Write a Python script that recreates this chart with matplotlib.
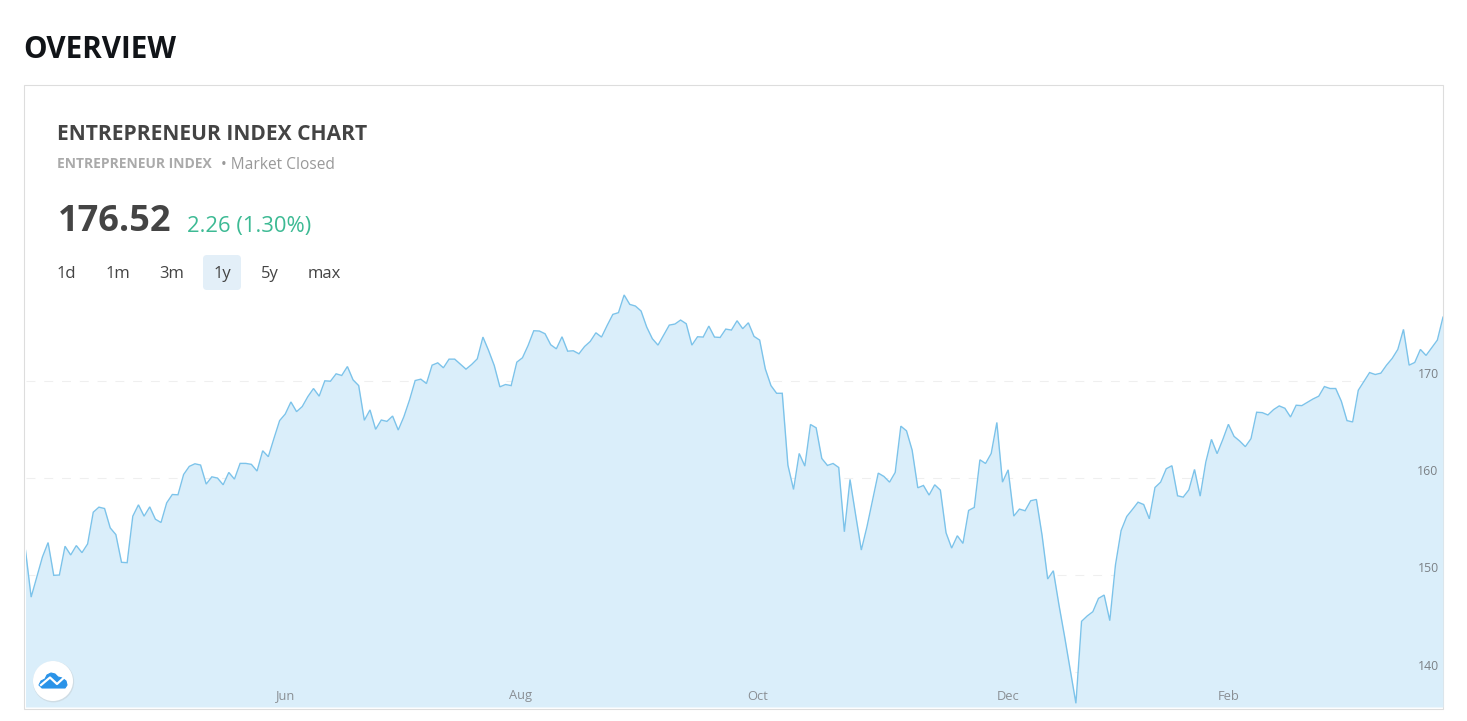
import matplotlib
matplotlib.use("Agg")
import matplotlib.pyplot as plt
from matplotlib.patches import Circle, FancyBboxPatch, Polygon, Rectangle
from matplotlib.lines import Line2D

index_values = [
    152.54, 147.73, 149.80, 151.86, 153.34, 149.97, 150.00, 152.96, 152.06, 153.03,
    152.30, 153.20, 156.46, 156.98, 156.84, 154.85, 154.16, 151.31, 151.27, 156.05,
    157.22, 156.05, 157.01, 155.74, 155.40, 157.42, 158.28, 158.25, 160.34, 161.17,
    161.44, 161.31, 159.35, 160.10, 159.97, 159.28, 160.55, 159.86, 161.48, 161.48,
    161.38, 160.69, 162.78, 162.17, 164.06, 165.88, 166.56, 167.80, 166.80, 167.32,
    168.35, 169.18, 168.39, 169.97, 169.93, 170.69, 170.52, 171.44, 170.07, 169.48,
    165.91, 166.98, 164.98, 165.94, 165.80, 166.35, 164.91, 166.28, 168.00, 170.00,
    170.14, 169.69, 171.58, 171.82, 171.31, 172.20, 172.20, 171.68, 171.17, 171.65,
    172.23, 174.47, 173.09, 171.55, 169.35, 169.59, 169.48, 171.89, 172.34, 173.61,
    175.12, 175.09, 174.81, 173.68, 173.26, 174.50, 173.02, 173.06, 172.75, 173.50,
    174.02, 174.91, 174.47, 175.67, 176.80, 176.98, 178.80, 177.83, 177.66, 177.15,
    175.50, 174.30, 173.64, 174.67, 175.70, 175.81, 176.22, 175.84, 173.64, 174.50,
    174.47, 175.60, 174.47, 174.43, 175.29, 175.19, 176.15, 175.33, 175.94, 174.54,
    174.16, 171.20, 169.48, 168.69, 168.69, 161.30, 158.80, 162.50, 161.20, 165.48,
    165.14, 161.99, 161.27, 161.47, 161.06, 154.45, 159.83, 156.16, 152.57, 154.97,
    157.71, 160.48, 160.14, 159.55, 160.55, 165.31, 164.83, 162.84, 158.97, 159.21,
    158.22, 159.28, 158.73, 154.35, 152.77, 154.04, 153.25, 156.64, 156.95, 161.85,
    161.47, 162.50, 165.69, 159.55, 160.82, 156.06, 156.78, 156.61, 157.64, 157.77,
    154.11, 149.59, 150.44, 146.92, 143.66, 140.24, 136.81, 145.24, 145.79, 146.23,
    147.60, 147.94, 145.31, 151.03, 154.57, 156.02, 156.74, 157.49, 157.25, 155.78,
    159.00, 159.55, 160.93, 161.24, 158.15, 158.01, 158.76, 160.86, 158.11, 161.62,
    163.95, 162.48, 163.92, 165.50, 164.26, 163.78, 163.20, 164.02, 166.74, 166.70,
    166.46, 167.01, 167.39, 167.15, 166.25, 167.46, 167.42, 167.77, 168.11, 168.39,
    169.38, 169.18, 169.18, 167.87, 165.88, 165.74, 169.00, 169.90, 170.82, 170.62,
    170.76, 171.58, 172.27, 173.20, 175.26, 171.58, 171.86, 173.20, 172.58, 173.37,
    174.16, 176.52,
]
month_positions = [46, 87.6, 129.7, 174, 213]
month_labels = ["Jun", "Aug", "Oct", "Dec", "Feb"]
price_ticks = [140, 150, 160, 170]
range_labels = ["1d", "1m", "3m", "1y", "5y", "max"]
range_centers = [66.5, 117.5, 171.5, 222, 270, 324.5]

W, H = 1467, 721
plt.rcParams["font.family"] = ["Open Sans", "DejaVu Sans"]
fig = plt.figure(figsize=(W / 100, H / 100), dpi=100, facecolor="white")

# page layer in pixel coordinates
page = fig.add_axes([0, 0, 1, 1], zorder=0)
page.set_xlim(0, W)
page.set_ylim(H, 0)
page.axis("off")
page.add_patch(Rectangle((24, 85), 1419, 624, fc="white", ec="#dddddd", lw=0.8))

# chart layer
left, right, top, bottom = 25.5, 1443, 290, 707
ax = fig.add_axes([left / W, 1 - bottom / H, (right - left) / W, (bottom - top) / H], zorder=1)
ax.patch.set_alpha(0)
for s in ax.spines.values():
    s.set_visible(False)
xs = list(range(len(index_values)))
ax.set_xlim(0, len(index_values) - 1)
ax.set_ylim(136.43, 179.31)
ax.set_yticks(price_ticks)
ax.set_xticks(month_positions)
ax.tick_params(length=0, labelleft=False, labelbottom=False)
ax.grid(axis="y", color="#efefef", lw=0.8, ls=(0, (8, 8)), zorder=0)
ax.set_axisbelow(True)
ax.fill_between(xs, index_values, 136.43, color="#daeefa", lw=0, zorder=2)
ax.plot(xs, index_values, color="#7cc3ea", lw=1.0, zorder=3, solid_joinstyle="miter")

for p, lab in zip(month_positions, month_labels):
    ax.annotate(lab, (p, 0), xycoords=("data", "axes fraction"), xytext=(0, 11.0 * 0.72),
                textcoords="offset points", ha="center", va="center",
                fontsize=9.3, color="#8a8f94", zorder=5)
for t in price_ticks:
    ax.annotate(str(t), (1, t), xycoords=("axes fraction", "data"), xytext=(-4.5 * 0.72, 6.2 * 0.72),
                textcoords="offset points", ha="right", va="center",
                fontsize=8.8, color="#7b8085", zorder=5)

# top layer: text and badge
over = fig.add_axes([0, 0, 1, 1], zorder=2)
over.set_xlim(0, W)
over.set_ylim(H, 0)
over.axis("off")
over.patch.set_alpha(0)

over.text(23.5, 49.5, "OVERVIEW", fontsize=21.3, fontweight="bold", color="#111418", va="center")
over.text(57, 135, "ENTREPRENEUR INDEX CHART", fontsize=15.1, fontweight="bold", color="#444444", va="center")
over.text(57, 164, "ENTREPRENEUR INDEX", fontsize=10.0, fontweight="bold", color="#aaaaaa", va="center")
over.text(221, 165, "• Market Closed", fontsize=11.2, color="#999999", va="center")
over.text(58, 222, "176.52", fontsize=26, fontweight="bold", color="#444444", va="center")
over.text(187, 226.5, "2.26 (1.30%)", fontsize=15.8, color="#3dba94", va="center")

over.add_patch(FancyBboxPatch((206, 258), 32, 29, boxstyle="round,pad=3,rounding_size=4",
                              fc="#e3eff8", ec="none"))
for lab, c in zip(range_labels, range_centers):
    over.text(c, 274, lab, fontsize=12, color="#444444", ha="center", va="center")

# badge
over.add_patch(Circle((53.5, 681.8), 20.6, fc="#c8d2d8", ec="none", alpha=0.6))
over.add_patch(Circle((53, 681), 20, fc="white", ec="none"))
over.add_patch(Polygon([(39, 685), (41, 681), (45, 679), (47, 675), (51, 673), (55, 674), (58, 677),
                        (62, 678), (66, 681), (67, 685), (65, 688), (42, 688)], closed=True,
                       fc="#2a93e8", ec="#2a93e8", lw=0.8, joinstyle="round"))
over.add_line(Line2D([41, 50, 57, 63, 66], [685, 677.5, 684, 678.5, 675], color="white", lw=1.6))

fig.savefig("out.png", dpi=100)
